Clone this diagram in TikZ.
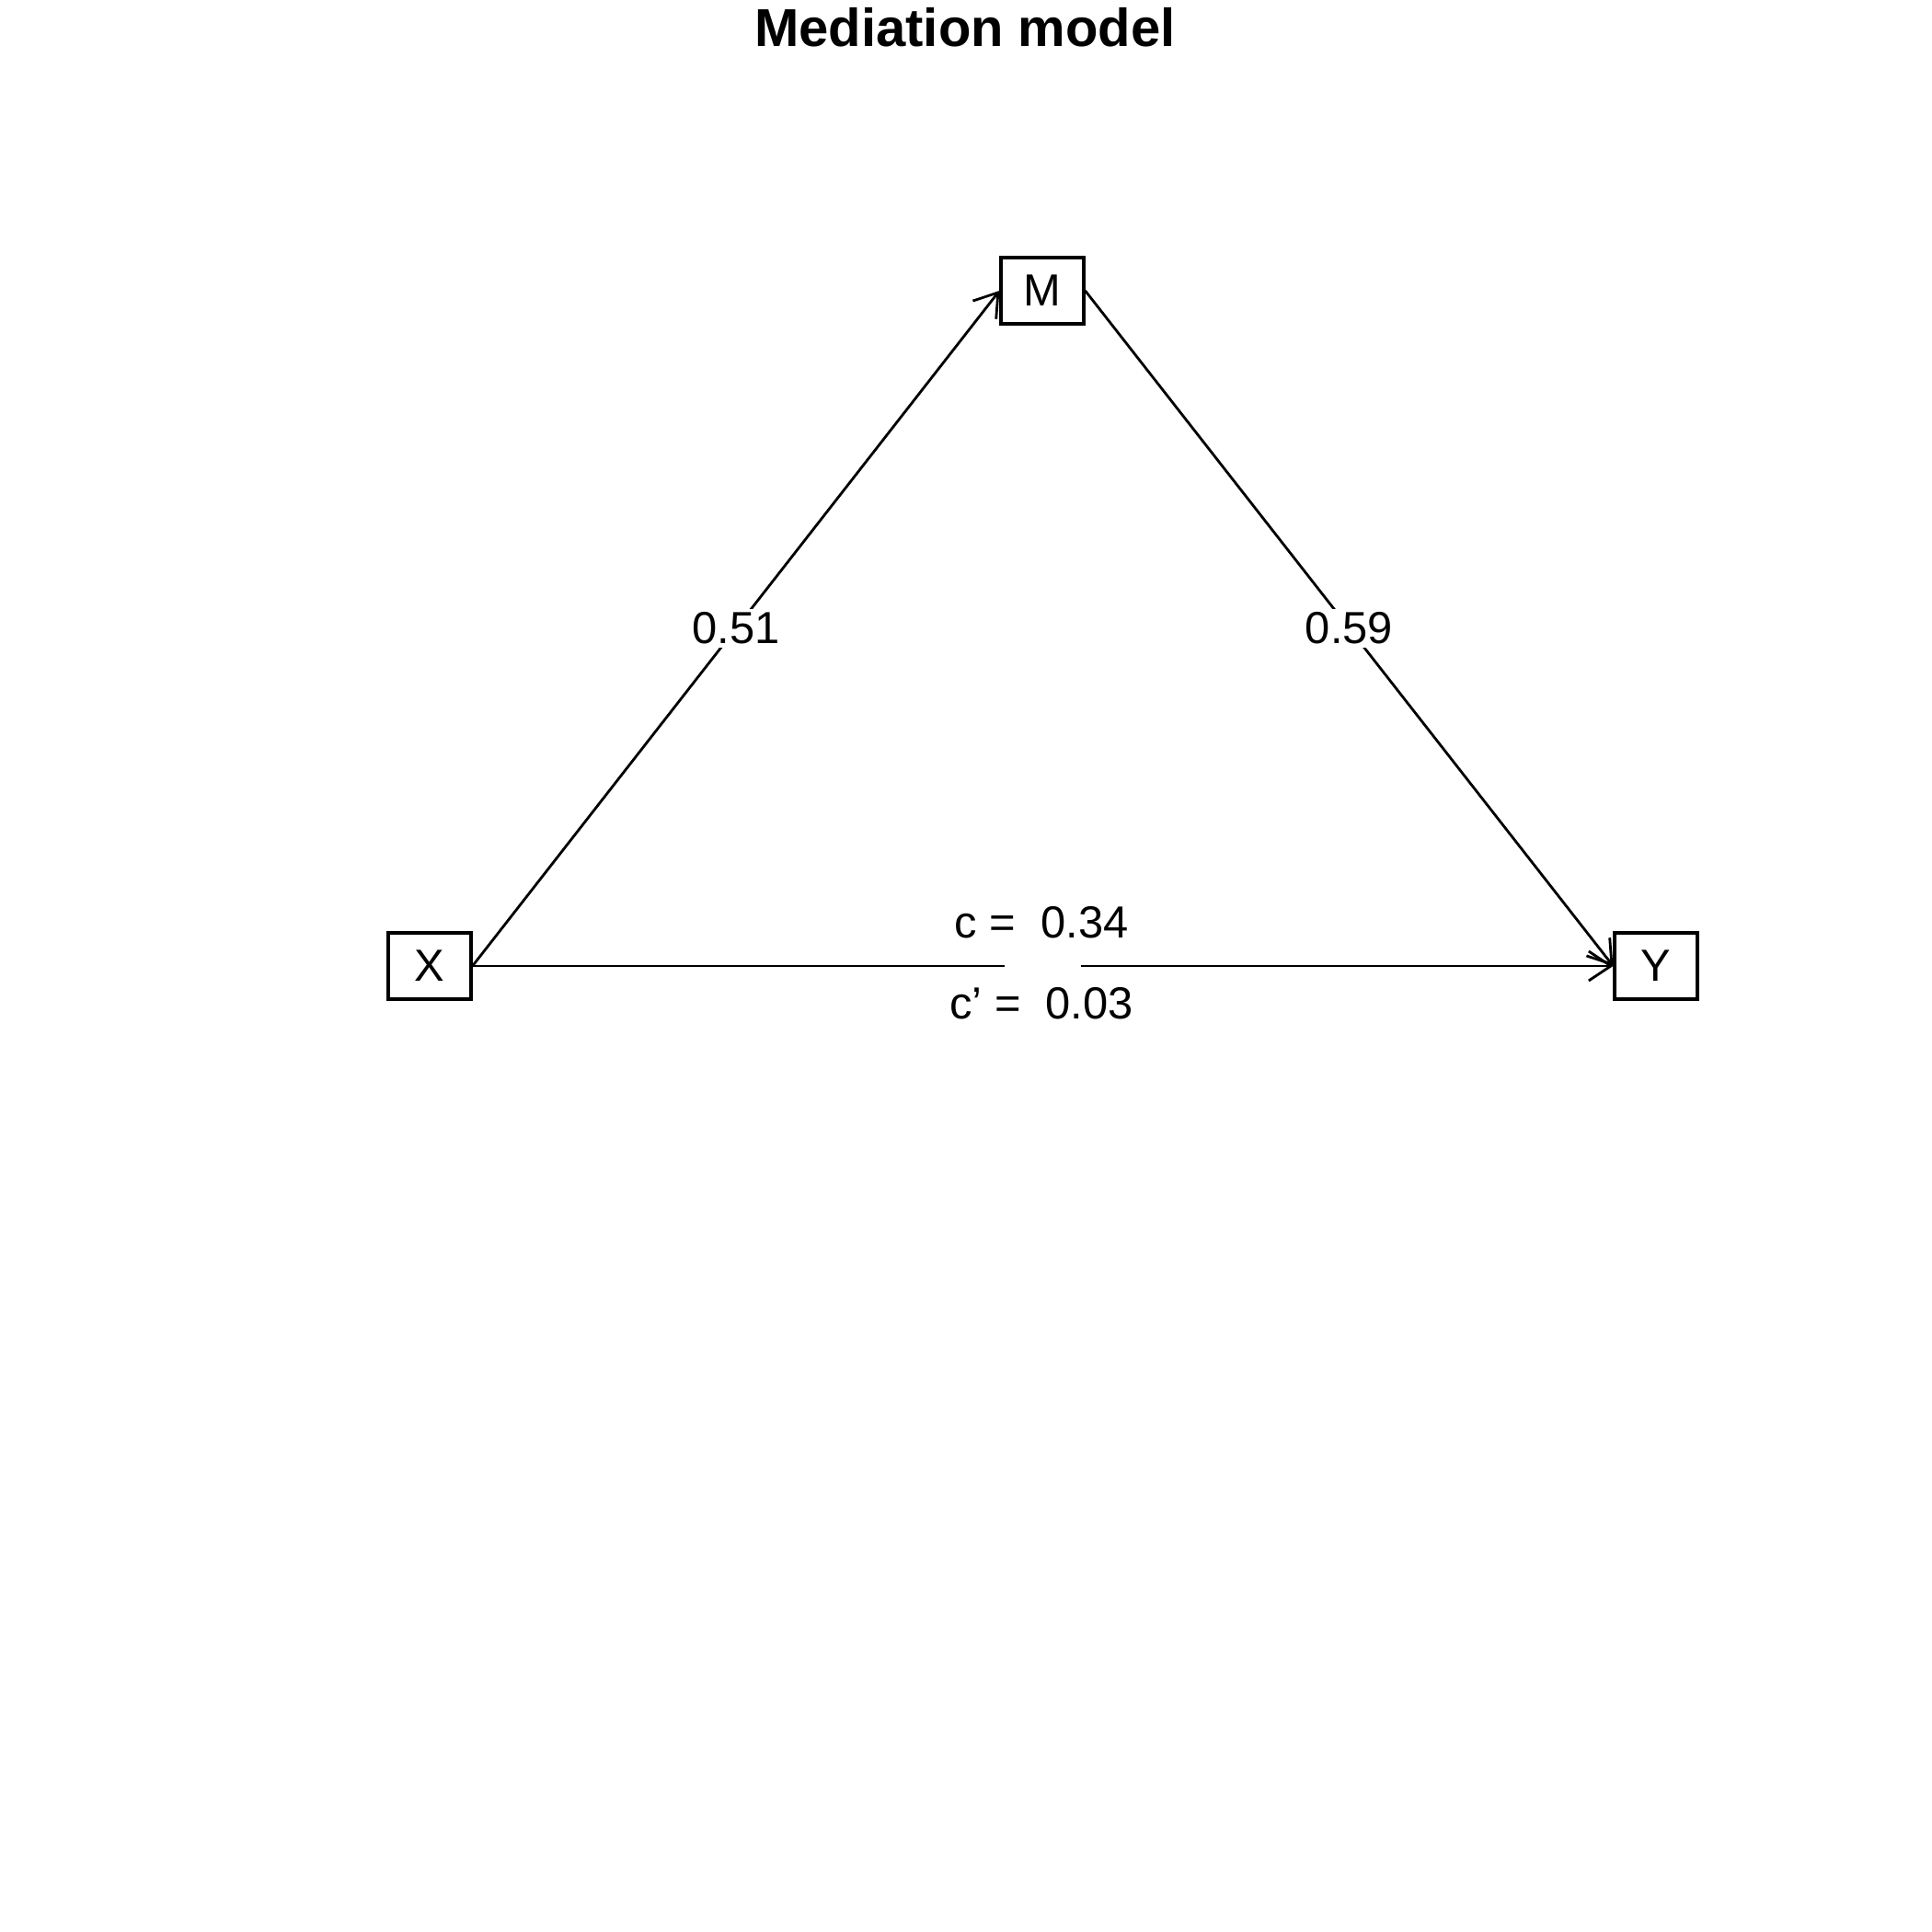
\documentclass[tikz,border=0pt]{standalone}
\usepackage{fontspec}
\setmainfont{Liberation Sans}
\usepackage{tikz}
\usetikzlibrary{arrows.meta,positioning}

\begin{document}
\begin{tikzpicture}[x=1cm,y=1cm,>={Straight Barb[length=2.4mm,width=3.2mm]},
  varbox/.style={draw,line width=0.9pt,minimum width=0.9cm,minimum height=0.72cm,inner sep=0pt,font=\fontsize{13.9}{16}\selectfont},
  coef/.style={fill=white,inner sep=1pt,font=\fontsize{13.9}{16}\selectfont},
  path/.style={->,line width=0.8pt}]
\useasboundingbox (0,0) rectangle (21,21);

% Title
\node[anchor=base,font=\fontsize{16.5}{19}\selectfont\bfseries] (title) at (10.49,20.49) {Mediation model};

% Variables
\node[varbox] (X) at (4.67,10.50) {X};
\node[varbox] (M) at (11.33,17.84) {M};
\node[varbox] (Y) at (18.00,10.50) {Y};

% Paths a and b
\draw[path] (X.east) -- (M.west) node[coef,midway] (a) {0.51};
\draw[path] (M.east) -- (Y.west) node[coef,midway] (b) {0.59};

% Total and direct effect
\draw[path] (X.east) -- (Y.west) node[midway,fill=white,minimum width=0.83cm,minimum height=1.5mm,inner sep=0pt] (gap) {};
\node[anchor=base,font=\fontsize{13.9}{16}\selectfont] (c) at (11.32,10.80) {c =\ \ 0.34};
\node[anchor=base,font=\fontsize{13.9}{16}\selectfont] (cp) at (11.32,9.92) {c’ =\ \ 0.03};
\end{tikzpicture}
\end{document}
